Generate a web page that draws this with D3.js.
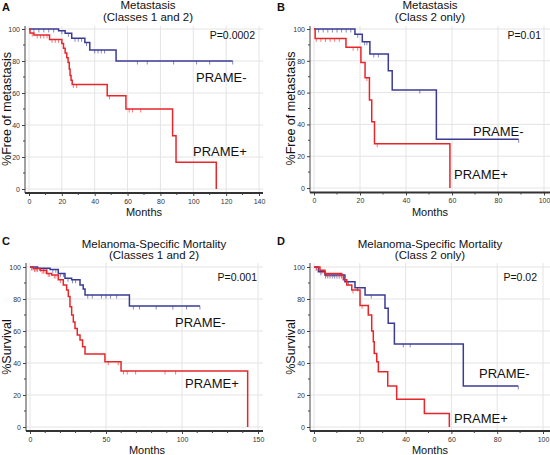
<!DOCTYPE html>
<html><head><meta charset="utf-8">
<script src="https://cdn.jsdelivr.net/npm/d3@7"></script>
<style>body{margin:0;background:#fff}svg{display:block;font-family:"Liberation Sans",Arial,sans-serif}</style>
</head><body><svg id="c" width="550" height="455"></svg>
<script>
// ---------- DATA ----------
// Panel A: Metastasis (Classes 1 and 2)
const aNegT = [0, 18, 22, 26, 34, 37, 53, 124];
const aNegS = [100, 98.9, 97.3, 94.2, 91.5, 86.9, 80, 80];
const aNegCens = [3, 6, 9, 12, 15, 20, 24, 28, 30, 32, 35, 40, 42, 44, 46, 66, 72, 88, 102, 110, 124];
const aPosT = [0, 0.6, 3, 12.5, 20, 21, 22, 23, 23.8, 24.5, 25, 25.6, 26.3, 47.6, 59, 87.4, 89.5, 114];
const aPosS = [100, 97.5, 96.3, 93.5, 91, 88, 85, 82, 79, 75, 71, 68, 65.3, 58.3, 50, 33.3, 16.7, 0];
const aPosCens = [2, 5, 7, 9, 11, 14, 16, 18, 27, 29, 49, 61, 63, 68];
// Panel B: Metastasis (Class 2 only)
const bNegT = [0, 17.8, 21, 24.3, 32.3, 34, 53.2, 89];
const bNegS = [100, 96.7, 92, 84.3, 73.8, 61.6, 30.6, 30.6];
const bNegCens = [2, 4, 6, 8, 10, 12, 14, 16, 19, 22, 23, 26, 28, 46, 89];
const bPosT = [0, 0.5, 13.9, 20.4, 22.2, 24.1, 25.1, 26.3, 59.1];
const bPosS = [100, 94.1, 88.5, 79, 69.4, 55.3, 41.7, 27.8, 0];
const bPosCens = [1, 3, 5, 7, 9, 11, 17, 19, 23, 27.5];
// Panel C: Melanoma-Specific Mortality (Classes 1 and 2)
const cNegT = [0, 5, 13.2, 18.6, 23, 27.4, 32.9, 35, 36.2, 65.4, 111.8];
const cNegS = [100, 99.2, 98.5, 96, 92.9, 92, 88.7, 86.2, 82.5, 75.6, 75.6];
const cNegCens = [2, 4, 7, 9, 11, 15, 17, 20, 22, 25, 28, 30, 38, 41, 47, 50, 53, 57, 68, 72, 83, 94, 103, 111.8];
const cPosT = [0, 2.2, 6.6, 11, 14.3, 18.6, 21.9, 24.1, 25.2, 26.3, 27.4, 28.5, 29.6, 31.1, 32.9, 34.6, 36.2, 49.3, 59.9, 143.2];
const cPosS = [100, 99, 98, 96, 95, 92, 88.7, 85.6, 81.5, 75.2, 70, 65.6, 61.5, 57.5, 54.4, 50.2, 45.6, 40.8, 35, 0];
const cPosCens = [1, 3, 4, 5, 8, 9, 10, 12, 13, 16, 17, 20, 51.5, 58, 61.5, 64, 69.5, 88.8, 95.8];
// Panel D: Melanoma-Specific Mortality (Class 2 only)
const dNegT = [0, 1.9, 4.8, 13.5, 17.9, 22.3, 31, 32.4, 35.1, 65.2, 89.2];
const dNegS = [100, 97, 95, 90.8, 87, 82.5, 74.2, 64.8, 51.9, 25.6, 25.6];
const dNegCens = [1, 3, 5, 6, 7, 8, 9, 10, 11, 12, 15, 19, 25, 39, 42, 89.2];
const dPosT = [0, 2.6, 4.8, 12.1, 12.8, 14.3, 16.5, 20.1, 23.7, 25.2, 25.9, 26.3, 27.4, 28.1, 32.2, 36.1, 48.2, 59.1];
const dPosS = [100, 98, 96, 95, 92, 88.8, 85.6, 76, 70, 60, 53.3, 46, 40.8, 34.6, 25.6, 17.3, 8.5, 0];
const dPosCens = [1, 2, 3.5, 5.5, 6.5, 7.5, 8.5, 9.5, 10.5, 11.5, 17, 21];

const yTicks = [0, 20, 40, 60, 80, 100];

// ---------- LAYOUT ----------
const BLUE = "#3b3b96", RED = "#e8262a";
const panels = [
  {letter:"A", lx:2, ly:11, title:["Metastasis","(Classes 1 and 2)"], tx:148, ty:[9,20.5],
   xr:[29,259], yr:[189,29], xd:[0,140], xt:[0,20,40,60,80,100,120,140], left:25, bottom:193, right:263, top:26,
   ylab:"%Free of metastasis", ylx:7, xlab:"Months", xlx:144, xly:216,
   p:"P=0.0002", px:255, py:39, negLab:[196,82], posLab:[193,156],
   neg:[aNegT,aNegS,aNegCens], pos:[aPosT,aPosS,aPosCens]},
  {letter:"B", lx:277, ly:11, title:["Metastasis","(Class 2 only)"], tx:430, ty:[9,20.5],
   xr:[314,544], yr:[188,29], xd:[0,100], xt:[0,20,40,60,80,100], left:310, bottom:192.5, right:550, top:26,
   ylab:"%Free of metastasis", ylx:291, xlab:"Months", xlx:430, xly:216,
   p:"P=0.01", px:541, py:39, negLab:[473,136], posLab:[454,179],
   neg:[bNegT,bNegS,bNegCens], pos:[bPosT,bPosS,bPosCens]},
  {letter:"C", lx:2, ly:245, title:["Melanoma-Specific Mortality","(Classes 1 and 2)"], tx:154, ty:[247.5,259],
   xr:[30,258], yr:[427,267], xd:[0,150], xt:[0,50,100,150], left:26, bottom:431, right:263, top:263,
   ylab:"%Survival", ylx:7, xlab:"Months", xlx:147, xly:454,
   p:"P=0.001", px:257, py:281, negLab:[175,327], posLab:[185,388],
   neg:[cNegT,cNegS,cNegCens], pos:[cPosT,cPosS,cPosCens]},
  {letter:"D", lx:277, ly:245, title:["Melanoma-Specific Mortality","(Class 2 only)"], tx:430, ty:[247.5,259],
   xr:[314,543], yr:[427,267], xd:[0,100], xt:[0,20,40,60,80,100], left:310, bottom:431, right:550, top:263,
   ylab:"%Survival", ylx:291, xlab:"Months", xlx:430, xly:454,
   p:"P=0.02", px:537, py:281, negLab:[479,378], posLab:[454,423],
   neg:[dNegT,dNegS,dNegCens], pos:[dPosT,dPosS,dPosCens]}
];

const svg = d3.select("#c");

function survAt(T, S, t){
  let v = S[0];
  for (let i=0;i<T.length;i++){ if (T[i] <= t) v = S[i]; }
  return v;
}

panels.forEach(P => {
  const g = svg.append("g");
  const x = d3.scaleLinear().domain(P.xd).range(P.xr);
  const y = d3.scaleLinear().domain([0,100]).range(P.yr);

  // grid
  g.selectAll(".gx").data(P.xt).join("line")
    .attr("x1", d=>x(d)).attr("x2", d=>x(d)).attr("y1", P.top).attr("y2", P.bottom)
    .attr("stroke", "#e4e4e4").attr("stroke-width", 1);
  g.selectAll(".gy").data(yTicks).join("line")
    .attr("x1", P.left).attr("x2", P.right).attr("y1", d=>y(d)).attr("y2", d=>y(d))
    .attr("stroke", "#e4e4e4").attr("stroke-width", 1);

  // y axis
  const yAxis = d3.axisLeft(y).tickValues(yTicks).tickSize(3).tickPadding(2);
  const ya = g.append("g").attr("transform", `translate(${P.left},0)`).call(yAxis);
  ya.select(".domain").remove();
  ya.append("line").attr("x1",0).attr("x2",0).attr("y1",P.top).attr("y2",P.bottom).attr("stroke","#444");
  ya.selectAll(".tick line").attr("stroke","#444");
  ya.selectAll("text").attr("font-size",7).attr("fill","#333").attr("font-family","Liberation Sans, Arial");
  const yMinor = d3.range(10,100,20);
  g.selectAll(".ym").data(yMinor).join("line")
    .attr("x1",P.left-2).attr("x2",P.left).attr("y1",d=>y(d)).attr("y2",d=>y(d)).attr("stroke","#444");

  // x axis
  const xAxis = d3.axisBottom(x).tickValues(P.xt).tickSize(3).tickPadding(3);
  const xa = g.append("g").attr("transform", `translate(0,${P.bottom})`).call(xAxis);
  xa.select(".domain").remove();
  xa.append("line").attr("x1",P.left).attr("x2",P.right).attr("y1",0).attr("y2",0).attr("stroke","#333").attr("stroke-width",2);
  xa.selectAll(".tick line").attr("stroke","#444");
  xa.selectAll("text").attr("font-size",7).attr("fill","#333").attr("font-family","Liberation Sans, Arial");
  const xMinor = d3.range(P.xd[0]+10, P.xd[1], 10).filter(v => P.xt.indexOf(v) < 0);
  g.selectAll(".xm").data(xMinor).join("line")
    .attr("x1",d=>x(d)).attr("x2",d=>x(d)).attr("y1",P.bottom).attr("y2",P.bottom+2).attr("stroke","#444");

  // curves
  const line = d3.line().x(d=>x(d[0])).y(d=>y(d[1])).curve(d3.curveStepAfter);
  [[P.neg, BLUE],[P.pos, RED]].forEach(([ser,col]) => {
    const [T,S,C] = ser;
    const pts = T.map((t,i)=>[t,S[i]]);
    g.append("path").attr("d", line(pts)).attr("fill","none").attr("stroke",col).attr("stroke-width",1.5);
    g.selectAll(null).data(C).join("line")
      .attr("x1",d=>x(d)).attr("x2",d=>x(d))
      .attr("y1",d=>y(survAt(T,S,d))).attr("y2",d=>y(survAt(T,S,d))+3.5)
      .attr("stroke",col).attr("stroke-opacity",0.6).attr("stroke-width",1);
  });

  // texts
  g.append("text").attr("x",P.lx).attr("y",P.ly).text(P.letter)
    .attr("font-size",11).attr("font-weight","bold").attr("fill","#111");
  P.title.forEach((t,i)=>{
    g.append("text").attr("x",P.tx).attr("y",P.ty[i]).attr("text-anchor","middle")
      .attr("font-size",11.5).attr("fill","#111").text(t);
  });
  g.append("text").attr("x",P.px).attr("y",P.py).attr("text-anchor","end")
    .attr("font-size",10.5).attr("fill","#111").text(P.p);
  g.append("text").attr("x",P.negLab[0]).attr("y",P.negLab[1]).attr("font-size",13).attr("fill","#111").text("PRAME-");
  g.append("text").attr("x",P.posLab[0]).attr("y",P.posLab[1]).attr("font-size",13).attr("fill","#111").text("PRAME+");
  g.append("text").attr("x",P.xlx).attr("y",P.xly).attr("text-anchor","middle")
    .attr("font-size",11).attr("fill","#111").text(P.xlab);
  const ymid = (P.yr[0]+P.yr[1])/2;
  g.append("text").attr("transform",`translate(${P.ylx+4},${ymid}) rotate(-90)`).attr("text-anchor","middle")
    .attr("font-size",12.5).attr("fill","#111").text(P.ylab);
});
</script></body></html>
